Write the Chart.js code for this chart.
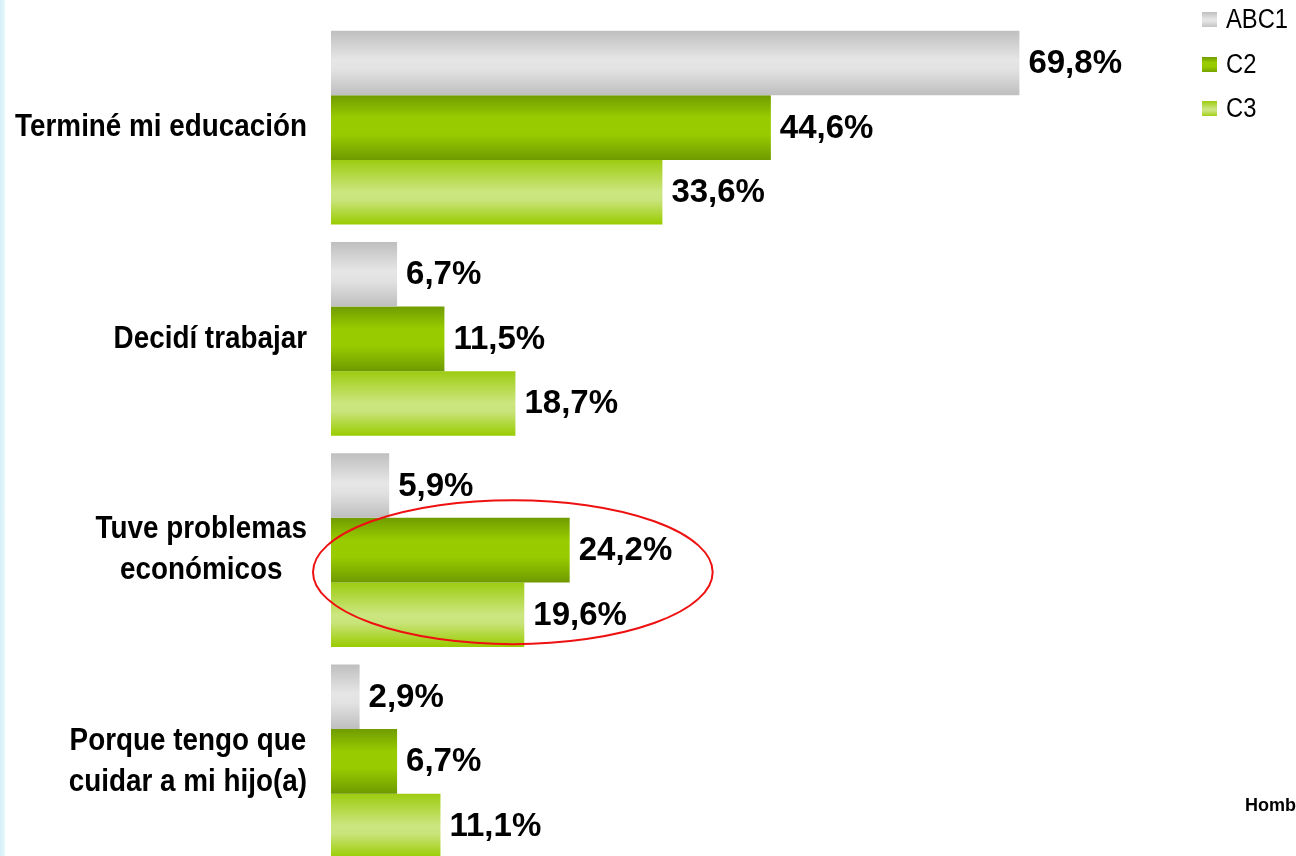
<!DOCTYPE html>
<html>
<head>
<meta charset="utf-8">
<script src="https://cdn.jsdelivr.net/npm/chart.js@4"></script>
<style>
  html, body { margin: 0; padding: 0; background: #ffffff; overflow: hidden; width: 1296px; height: 856px; }
  #wrap { position: absolute; left: 0; top: 0; width: 1296px; height: 880px; }
  #strip { position: absolute; left: 0; top: 0; width: 5px; height: 856px; background: linear-gradient(to right, #d3eff7, #e9f8fc); z-index: 2; }
</style>
</head>
<body>
<div id="strip"></div>
<div id="wrap"><canvas id="c" width="1296" height="880"></canvas></div>
<script>
// ---- data ----
const categories = [
  ["Terminé mi educación"],
  ["Decidí trabajar"],
  ["Tuve problemas", "económicos"],
  ["Porque tengo que", "cuidar a mi hijo(a)"]
];
const seriesNames = ["ABC1", "C2", "C3"];
const abc1 = [69.8, 6.7, 5.9, 2.9];
const c2 = [44.6, 11.5, 24.2, 6.7];
const c3 = [33.6, 18.7, 19.6, 11.1];
const footerText = "Hombres";
const highlightCategory = 2;

// ---- styles ----
const FONT = '"Liberation Sans", Arial, Helvetica, sans-serif';
const gradStops = [
  [[0, '#bfbfbf'], [0.45, '#e6e6e6'], [0.6, '#e2e2e2'], [1, '#bebebe']],
  [[0, '#719c00'], [0.35, '#99cc00'], [0.6, '#99cc00'], [1, '#6f9a00']],
  [[0, '#9dcc10'], [0.5, '#cce680'], [0.62, '#cae47c'], [1, '#99cc00']]
];
const flatColors = ['#d4d4d4', '#88b800', '#bfe060'];

function makeGrad(ctx, top, bottom, stops) {
  const g = ctx.createLinearGradient(0, top, 0, bottom);
  stops.forEach(s => g.addColorStop(s[0], s[1]));
  return g;
}

function scaledText(ctx, txt, x, y, sx) {
  ctx.save();
  ctx.translate(x, y);
  ctx.scale(sx, 1);
  ctx.fillText(txt, 0, 0);
  ctx.restore();
}

const gradientPlugin = {
  id: 'gradientBars',
  beforeDatasetsDraw(chart) {
    const ctx = chart.ctx;
    chart.data.datasets.forEach((ds, di) => {
      const meta = chart.getDatasetMeta(di);
      meta.data.forEach(el => {
        const top = el.y - el.height / 2;
        const bottom = el.y + el.height / 2;
        el.options = Object.assign({}, el.options, { backgroundColor: makeGrad(ctx, top, bottom, gradStops[di]) });
      });
    });
  }
};

const labelsPlugin = {
  id: 'valueLabels',
  afterDatasetsDraw(chart) {
    const ctx = chart.ctx;
    ctx.save();
    ctx.font = 'bold 33px ' + FONT;
    ctx.fillStyle = '#000';
    ctx.textBaseline = 'middle';
    ctx.textAlign = 'left';
    chart.data.datasets.forEach((ds, di) => {
      const meta = chart.getDatasetMeta(di);
      meta.data.forEach((el, i) => {
        const txt = ds.data[i].toFixed(1).replace('.', ',') + '%';
        ctx.fillText(txt, el.x + 9, el.y + 1);
      });
    });

    // highlight ellipse around category
    const xs = chart.scales.x, ys = chart.scales.y;
    const x0 = xs.getPixelForValue(0);
    const xEnd = xs.getPixelForValue(c2[highlightCategory]);
    const yc = ys.getPixelForValue(highlightCategory);
    const left = x0 - 18, right = xEnd + 143;
    ctx.beginPath();
    ctx.ellipse((left + right) / 2, yc + 22, (right - left) / 2, 72, 0, 0, Math.PI * 2);
    ctx.strokeStyle = '#ee1111';
    ctx.lineWidth = 2;
    ctx.stroke();
    ctx.restore();
  }
};

const catLabelPlugin = {
  id: 'catLabels',
  afterDraw(chart) {
    const ctx = chart.ctx;
    const ys = chart.scales.y;
    const rightEdge = chart.chartArea.left - 24;
    const sx = 0.87;
    ctx.save();
    ctx.font = 'bold 32px ' + FONT;
    ctx.fillStyle = '#000';
    ctx.textBaseline = 'middle';
    ctx.textAlign = 'center';
    const lh = 41;
    categories.forEach((lines, i) => {
      const yc = ys.getPixelForValue(i);
      const w = Math.max(...lines.map(l => ctx.measureText(l).width)) * sx;
      const cx = rightEdge - w / 2;
      const startY = yc - (lines.length - 1) * lh / 2;
      lines.forEach((l, k) => scaledText(ctx, l, cx, startY + k * lh, sx));
    });

    // legend
    ctx.font = '27px ' + FONT;
    ctx.textAlign = 'left';
    const legY = [20, 65, 109];
    seriesNames.forEach((n, i) => {
      const y = legY[i];
      ctx.fillStyle = makeGrad(ctx, y - 8, y + 8, gradStops[i]);
      ctx.fillRect(1202, y - 8, 15, 15);
      ctx.fillStyle = '#000';
      scaledText(ctx, n, 1226, y + 1, 0.88);
    });

    // footer
    ctx.font = 'bold 18px ' + FONT;
    ctx.fillText(footerText, 1245, 806);
    ctx.restore();
  }
};

new Chart(document.getElementById('c'), {
  type: 'bar',
  data: {
    labels: categories.map(c => c.join(' ')),
    datasets: [
      { label: seriesNames[0], data: abc1, backgroundColor: flatColors[0] },
      { label: seriesNames[1], data: c2, backgroundColor: flatColors[1] },
      { label: seriesNames[2], data: c3, backgroundColor: flatColors[2] }
    ]
  },
  options: {
    indexAxis: 'y',
    responsive: false,
    animation: false,
    devicePixelRatio: 1,
    layout: { padding: { left: 331, right: 176, top: 22, bottom: 13 } },
    datasets: { bar: { categoryPercentage: 0.916, barPercentage: 1.0, borderWidth: 0 } },
    plugins: { legend: { display: false }, tooltip: { enabled: false }, title: { display: false } },
    scales: {
      x: { display: false, min: 0, max: 80, grid: { display: false } },
      y: { display: false, grid: { display: false } }
    }
  },
  plugins: [gradientPlugin, labelsPlugin, catLabelPlugin]
});
</script>
</body>
</html>
